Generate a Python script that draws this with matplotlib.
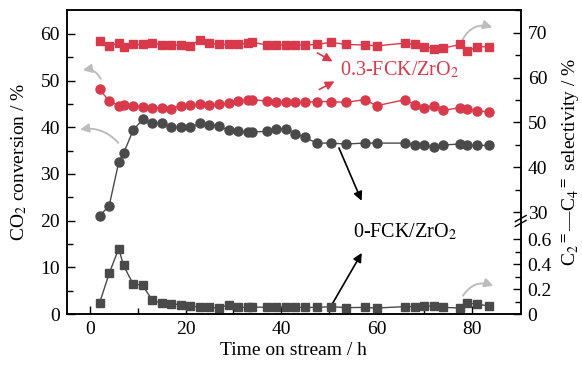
import matplotlib
matplotlib.use("Agg")
import matplotlib.pyplot as plt
import numpy as np

# time on stream (h), shared by all four series
time_h = [2, 4, 6, 7, 9, 11, 13, 15, 17, 19, 21, 23, 25, 27, 29, 31, 33, 34, 37, 39, 41,
          43, 45, 47.5, 50.5, 53.5, 57.5, 60, 66, 68, 70, 72, 74, 77.5, 79, 81, 83.5]

# CO2 conversion (%), left axis
conv_0fck = [21.0, 23.2, 32.5, 34.4, 39.3, 41.7, 40.9, 40.9, 40.1, 40.0, 40.0, 40.9, 40.5,
             40.3, 39.3, 39.1, 39.0, 39.0, 39.1, 39.6, 39.6, 38.6, 37.8, 36.6, 36.6, 36.4,
             36.6, 36.6, 36.6, 36.2, 36.1, 35.7, 36.2, 36.4, 36.1, 36.1, 36.1]
conv_03fck = [48.1, 45.6, 44.6, 44.8, 44.6, 44.4, 44.2, 44.1, 44.0, 44.6, 44.8, 44.9, 44.8,
              44.9, 45.1, 45.6, 45.8, 45.9, 45.6, 45.3, 45.3, 45.3, 45.3, 45.5, 45.5, 45.3,
              45.9, 44.6, 45.9, 44.8, 44.2, 44.6, 43.6, 44.2, 43.8, 43.5, 43.3]

# C2=-C4= selectivity (%), right (broken) axis
sel_0fck = [0.090, 0.325, 0.523, 0.389, 0.240, 0.229, 0.112, 0.085, 0.080, 0.075, 0.067,
            0.053, 0.053, 0.048, 0.075, 0.053, 0.053, 0.056, 0.053, 0.053, 0.053, 0.053,
            0.053, 0.053, 0.059, 0.051, 0.053, 0.048, 0.059, 0.059, 0.067, 0.061, 0.053,
            0.048, 0.088, 0.080, 0.064]
sel_03fck = [68.2, 67.0, 67.8, 66.9, 67.4, 67.4, 67.8, 67.3, 67.3, 67.3, 67.1, 68.5, 67.7,
             67.4, 67.4, 67.4, 67.7, 67.9, 67.3, 67.3, 67.3, 67.3, 67.3, 67.4, 67.9, 67.4,
             67.3, 67.1, 67.7, 67.4, 66.9, 66.5, 66.6, 67.4, 65.9, 66.9, 66.9]

right_major = [0, 0.2, 0.4, 0.6, 30, 40, 50, 60, 70]
right_labels = ["0", "0.2", "0.4", "0.6", "30", "40", "50", "60", "70"]
right_minor = [0.1, 0.3, 0.5, 35, 45, 55, 65, 75]

RED = "#d83a4b"
DARK = "#4a4a4a"
LIGHT = "#bcbcbc"

plt.rcParams["font.family"] = ["Liberation Serif", "DejaVu Serif"]
plt.rcParams["mathtext.fontset"] = "stix"
plt.rcParams["font.size"] = 14


# broken right axis: low part (0-0.68) and high part (>=28) share one spine
def fwd(v):
    v = np.asarray(v, dtype=float)
    return np.where(v <= 0.68, 125 * v,
                    np.where(v >= 28, 93 + (v - 28) * 4.48, 85 + (v - 0.68) * 8 / 27.32))


def inv(p):
    p = np.asarray(p, dtype=float)
    return np.where(p <= 85, p / 125,
                    np.where(p >= 93, 28 + (p - 93) / 4.48, 0.68 + (p - 85) * 27.32 / 8))


fig = plt.figure(figsize=(5.82, 3.65), dpi=100)
ax = fig.add_axes([0.1146, 0.1397, 0.7801, 0.8329])
ax2 = ax.twinx()

ax.plot(time_h, conv_0fck, "-o", color=DARK, ms=6.5, lw=1, zorder=3)
ax.plot(time_h, conv_03fck, "-o", color=RED, ms=6.5, lw=1, zorder=3)
ax2.set_yscale("function", functions=(fwd, inv))
ax2.plot(time_h, sel_0fck, "-s", color=DARK, ms=5.5, lw=1)
ax2.plot(time_h, sel_03fck, "-s", color=RED, ms=5.5, lw=1)

ax.set_xlim(-4.9, 90.2)
ax.set_ylim(0, 65.1)
ax2.set_ylim(0, 75.1)
ax.set_xticks([0, 20, 40, 60, 80])
ax.set_xticks([10, 30, 50, 70], minor=True)
ax.set_yticks([0, 10, 20, 30, 40, 50, 60])
ax.set_yticks([5, 15, 25, 35, 45, 55], minor=True)
ax2.set_yticks(right_major)
ax2.set_yticklabels(right_labels)
ax2.set_yticks(right_minor, minor=True)
ax2.yaxis.set_minor_formatter(plt.NullFormatter())

for a in (ax, ax2):
    a.tick_params(which="both", direction="in", width=1, labelsize=14)
    a.tick_params(which="major", length=6, pad=5)
    a.tick_params(which="minor", length=4)
    for s in a.spines.values():
        s.set_linewidth(1.1)
ax.tick_params(top=False, right=False)
ax2.tick_params(left=False)

ax.set_xlabel("Time on stream / h", labelpad=3)
ax.set_ylabel("CO$_2$ conversion / %", labelpad=8)
ax2.set_ylabel("C$_2$$^{=}$\u2014C$_4$$^{=}$ selectivity / %", labelpad=6)

# break marks on the right spine
for yb in (0.298, 0.314):
    ax2.plot([0.988, 1.012], [yb - 0.01, yb + 0.01], transform=ax2.transAxes,
             color="k", lw=1, clip_on=False)

# curved grey arrows showing which axis each series belongs to
grey = dict(arrowstyle="-|>", color=LIGHT, lw=1.4, mutation_scale=13)
ax.annotate("", xy=(-2.1, 52.1), xytext=(2.45, 49.8),
            arrowprops=dict(grey, connectionstyle="arc3,rad=0.45"))
ax.annotate("", xy=(-2.7, 39.4), xytext=(6.3, 36.2),
            arrowprops=dict(grey, connectionstyle="arc3,rad=0.3"))
ax.annotate("", xy=(84.8, 61.2), xytext=(77.8, 58.3),
            arrowprops=dict(grey, connectionstyle="arc3,rad=-0.45"))
ax.annotate("", xy=(85.0, 5.8), xytext=(77.8, 3.4),
            arrowprops=dict(grey, connectionstyle="arc3,rad=-0.45"))

# series labels
ax.text(52.4, 52.3, "0.3-FCK/ZrO$_2$", color=RED, fontsize=14.5, ha="left", va="center")
ax.annotate("", xy=(51.3, 53.8), xytext=(47.1, 56.2),
            arrowprops=dict(arrowstyle="-|>", color=RED, lw=1.2, mutation_scale=13))
ax.annotate("", xy=(51.7, 50.1), xytext=(47.5, 47.8),
            arrowprops=dict(arrowstyle="-|>", color=RED, lw=1.2, mutation_scale=13))

ax.text(55.1, 17.6, "0-FCK/ZrO$_2$", color="k", fontsize=14.5, ha="left", va="center")
ax.annotate("", xy=(57.1, 23.7), xytext=(51.9, 36.1),
            arrowprops=dict(arrowstyle="-|>", color="k", lw=1.2, mutation_scale=13))
ax.annotate("", xy=(57.2, 13.6), xytext=(50.3, 1.4),
            arrowprops=dict(arrowstyle="-|>", color="k", lw=1.2, mutation_scale=13))

fig.savefig("out.png", dpi=100)
